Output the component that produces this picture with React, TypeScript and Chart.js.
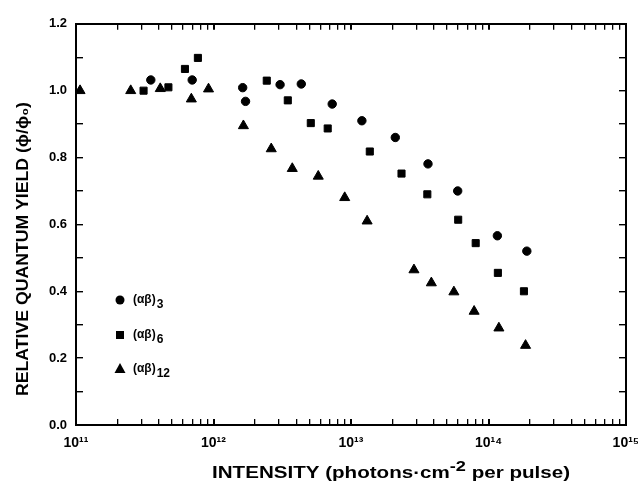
import React, { useEffect, useRef } from "react";
import { Chart, registerables } from "chart.js";

Chart.register(...registerables);

// ---- Data ----
const trimerX = [3.5e11, 7.0e11, 1.63e12, 1.71e12, 3.05e12, 4.35e12, 7.3e12, 1.2e13, 2.1e13, 3.63e13, 5.97e13, 1.16e14, 1.9e14];
const trimerY = [1.032, 1.032, 1.009, 0.968, 1.018, 1.02, 0.96, 0.91, 0.86, 0.781, 0.7, 0.566, 0.52];

const hexamerX = [3.1e11, 4.7e11, 6.2e11, 7.7e11, 2.44e12, 3.47e12, 5.1e12, 6.77e12, 1.37e13, 2.33e13, 3.59e13, 6.02e13, 8.07e13, 1.17e14, 1.81e14];
const hexamerY = [1.0, 1.01, 1.065, 1.098, 1.03, 0.971, 0.903, 0.887, 0.818, 0.752, 0.69, 0.614, 0.544, 0.455, 0.4];

const dodecamerX = [1.07e11, 2.5e11, 4.1e11, 6.9e11, 9.2e11, 1.65e12, 2.63e12, 3.74e12, 5.78e12, 9.0e12, 1.31e13, 2.87e13, 3.84e13, 5.6e13, 7.86e13, 1.19e14, 1.86e14];
const dodecamerY = [1.0, 1.0, 1.006, 0.975, 1.005, 0.895, 0.826, 0.767, 0.744, 0.68, 0.61, 0.464, 0.425, 0.398, 0.34, 0.29, 0.238];

const seriesBase = "(αβ)";
const seriesSubs = ["3", "6", "12"];
const seriesStyles = ["circle", "rect", "triangle"];

const xDecades = [11, 12, 13, 14, 15];
const xTickLabels = ["10¹¹", "10¹²", "10¹³", "10¹⁴", "10¹⁵"];
const yTickLabels = ["0.0", "0.2", "0.4", "0.6", "0.8", "1.0", "1.2"];

const yTitle = "RELATIVE QUANTUM YIELD (ϕ/ϕ₀)";
const xTitleParts = ["INTENSITY (photons·cm", "-2", " per pulse)"];

const FONT = "'Liberation Sans', Arial, sans-serif";

function pts(xs: number[], ys: number[]) {
  return xs.map((x, i) => ({ x, y: ys[i] }));
}

function allXTicks() {
  const ticks: { value: number; major: boolean }[] = [];
  for (let d = 0; d < xDecades.length - 1; d++) {
    for (let m = 1; m <= 9; m++) ticks.push({ value: m * Math.pow(10, xDecades[d]), major: m === 1 });
  }
  ticks.push({ value: Math.pow(10, xDecades[xDecades.length - 1]), major: true });
  return ticks;
}

function isDecade(v: number) {
  const lg = Math.log10(v);
  return Math.abs(lg - Math.round(lg)) < 1e-6;
}

function drawText(ctx: CanvasRenderingContext2D) {
  ctx.save();
  ctx.fillStyle = "#000";
  // legend
  const lx = 120;
  const lys = [300, 335, 369];
  lys.forEach((ly, i) => {
    const st = seriesStyles[i];
    ctx.beginPath();
    if (st === "circle") {
      ctx.arc(lx, ly, 4.5, 0, Math.PI * 2);
    } else if (st === "rect") {
      ctx.rect(lx - 4, ly - 4, 8, 8);
    } else {
      ctx.moveTo(lx, ly - 6);
      ctx.lineTo(lx + 5.5, ly + 4);
      ctx.lineTo(lx - 5.5, ly + 4);
      ctx.closePath();
    }
    ctx.fill();
    ctx.font = `bold 12px ${FONT}`;
    ctx.textBaseline = "middle";
    ctx.textAlign = "left";
    const tx = lx + 13;
    ctx.fillText(seriesBase, tx, ly);
    const w = ctx.measureText(seriesBase).width;
    ctx.fillText(seriesSubs[i], tx + w + 1, ly + 5);
  });

  // y title
  ctx.save();
  ctx.font = `bold 17px ${FONT}`;
  const wy = ctx.measureText(yTitle).width || 1;
  const targetY = 294;
  ctx.translate(23, 249);
  ctx.rotate(-Math.PI / 2);
  ctx.scale(targetY / wy, 1);
  ctx.textAlign = "center";
  ctx.textBaseline = "middle";
  ctx.fillText(yTitle, 0, 0);
  ctx.restore();

  // x title
  ctx.save();
  const big = `bold 17px ${FONT}`;
  const small = `bold 15px ${FONT}`;
  ctx.font = big;
  const w0 = ctx.measureText(xTitleParts[0]).width;
  ctx.font = small;
  const w1 = ctx.measureText(xTitleParts[1]).width;
  ctx.font = big;
  const w2 = ctx.measureText(xTitleParts[2]).width;
  const total = w0 + w1 + w2 || 1;
  const targetX = 358;
  ctx.translate(391 - targetX / 2, 478);
  ctx.scale(targetX / total, 1);
  ctx.textAlign = "left";
  ctx.textBaseline = "alphabetic";
  ctx.font = big;
  ctx.fillText(xTitleParts[0], 0, 0);
  ctx.font = small;
  ctx.fillText(xTitleParts[1], w0, -7);
  ctx.font = big;
  ctx.fillText(xTitleParts[2], w0 + w1, 0);
  ctx.restore();
  ctx.restore();
}

export default function App() {
  const ref = useRef<HTMLCanvasElement | null>(null);
  const overlayRef = useRef<HTMLCanvasElement | null>(null);
  useEffect(() => {
    if (!ref.current) return;
    const mk = (xs: number[], ys: number[], i: number, r: number) => ({
      label: seriesBase + seriesSubs[i],
      data: pts(xs, ys),
      pointStyle: seriesStyles[i],
      pointRadius: r,
      pointHoverRadius: r,
      backgroundColor: "#000",
      borderColor: "#000",
      borderWidth: 1,
      showLine: false,
      xAxisID: "x",
      yAxisID: "y",
    });
    const tickFont = { family: FONT, size: 13, weight: "bold" };
    const border = { display: true, color: "#000", width: 2 };
    const xGrid = {
      display: true,
      drawOnChartArea: false,
      drawTicks: true,
      tickLength: -6,
      color: "#000",
      lineWidth: (c: any) => (c.tick && isDecade(c.tick.value) ? 2 : 1.3),
    };
    const yGrid = {
      display: true,
      drawOnChartArea: false,
      drawTicks: true,
      tickLength: -7,
      color: "#000",
      lineWidth: 1.4,
    };
    const xMin = Math.pow(10, xDecades[0]);
    const xMax = Math.pow(10, xDecades[xDecades.length - 1]);
    const chart = new Chart(ref.current, {
      type: "scatter",
      data: {
        datasets: [
          mk(trimerX, trimerY, 0, 4.2),
          mk(hexamerX, hexamerY, 1, 5.0),
          mk(dodecamerX, dodecamerY, 2, 5.8),
        ],
      },
      options: {
        responsive: false,
        animation: false,
        events: [],
        layout: { padding: { left: 0, right: 12, top: 20, bottom: 0 } },
        plugins: { legend: { display: false }, title: { display: false }, tooltip: { enabled: false } },
        scales: {
          x: {
            type: "logarithmic",
            axis: "x",
            position: "bottom",
            min: xMin,
            max: xMax,
            grid: xGrid,
            border,
            afterBuildTicks: (scale: any) => {
              scale.ticks = allXTicks().map((t) => ({ value: t.value }));
            },
            afterFit: (scale: any) => {
              scale.height = 59;
              scale.paddingLeft = 0;
              scale.paddingRight = 0;
            },
            ticks: {
              autoSkip: false,
              maxRotation: 0,
              minRotation: 0,
              padding: 16,
              color: "#000",
              font: { ...tickFont, size: 14 },
              callback: (v: any) => {
                const n = Number(v);
                if (!isDecade(n)) return "";
                const idx = xDecades.indexOf(Math.round(Math.log10(n)));
                return idx >= 0 ? xTickLabels[idx] : "";
              },
            },
          },
          x2: {
            type: "logarithmic",
            axis: "x",
            position: "top",
            min: xMin,
            max: xMax,
            grid: xGrid,
            border,
            afterBuildTicks: (scale: any) => {
              scale.ticks = allXTicks().map((t) => ({ value: t.value }));
            },
            afterFit: (scale: any) => {
              scale.height = 0;
              scale.paddingLeft = 0;
              scale.paddingRight = 0;
            },
            ticks: { display: false, autoSkip: false, maxRotation: 0, minRotation: 0 },
          },
          y: {
            type: "linear",
            axis: "y",
            position: "left",
            min: 0,
            max: 1.2,
            grid: yGrid,
            border,
            afterFit: (scale: any) => {
              scale.width = 76;
            },
            ticks: {
              stepSize: 0.1,
              autoSkip: false,
              padding: 16,
              color: "#000",
              font: tickFont,
              callback: (v: any) => {
                const k = Math.round(Number(v) * 10);
                if (k % 2 !== 0) return "";
                return yTickLabels[k / 2] ?? "";
              },
            },
          },
          y2: {
            type: "linear",
            axis: "y",
            position: "right",
            min: 0,
            max: 1.2,
            grid: yGrid,
            border,
            afterFit: (scale: any) => {
              scale.width = 0;
            },
            ticks: { display: false, stepSize: 0.1, autoSkip: false },
          },
        },
      },
    } as any);
    const oc = overlayRef.current;
    if (oc) {
      const octx = oc.getContext("2d");
      if (octx) {
        octx.clearRect(0, 0, oc.width, oc.height);
        drawText(octx);
      }
    }
    return () => {
      chart.destroy();
      if (oc) {
        const octx = oc.getContext("2d");
        if (octx) octx.clearRect(0, 0, oc.width, oc.height);
      }
    };
  }, []);
  return (
    <div style={{ position: "absolute", left: 0, top: 0, width: 638, height: 484, background: "#fff" }}>
      <canvas ref={ref} width={638} height={484} style={{ position: "absolute", left: 0, top: 0 }} />
      <canvas
        ref={overlayRef}
        width={638}
        height={484}
        style={{ position: "absolute", left: 0, top: 0, pointerEvents: "none" }}
      />
    </div>
  );
}
